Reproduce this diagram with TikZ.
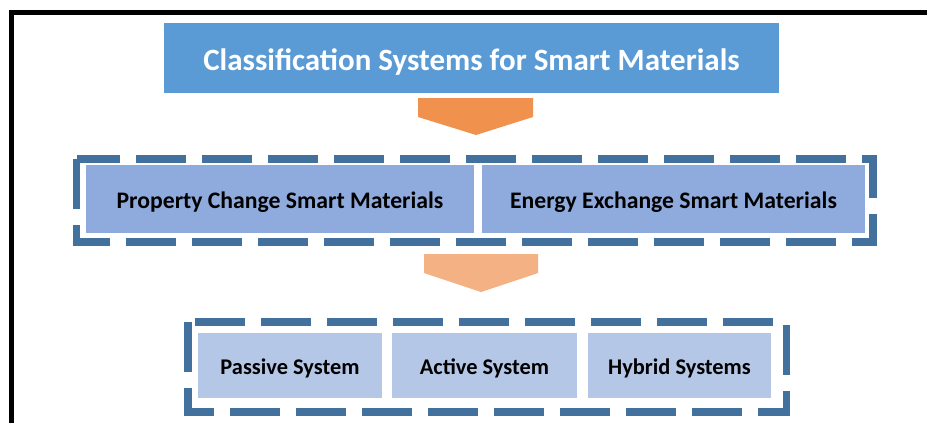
\documentclass[tikz,border=0pt]{standalone}
\usepackage{fontspec}
\setmainfont{Carlito}
\usepackage{tikz}
\usetikzlibrary{positioning}

\definecolor{titleblue}{RGB}{91,155,213}
\definecolor{midblue}{RGB}{143,170,220}
\definecolor{lightblue}{RGB}{180,199,231}
\definecolor{dashblue}{RGB}{65,113,156}
\definecolor{darkorange}{RGB}{240,146,78}
\definecolor{lightorange}{RGB}{244,177,131}

\begin{document}
\begin{tikzpicture}[x=1pt,y=-1pt,inner sep=0pt,text depth=0pt]
       \tikzstyle{titlebox}=[rectangle, fill=titleblue, text=white, text height=24pt, font=\fontsize{31}{36}\selectfont\bfseries]
       \tikzstyle{classbox}=[rectangle, fill=midblue, minimum height=68, text height=18pt, font=\fontsize{23.7}{28}\selectfont\bfseries]
       \tikzstyle{sysbox}=[rectangle, fill=lightblue, minimum height=65, minimum width=184, text height=17pt, font=\fontsize{22.4}{27}\selectfont\bfseries]
       \tikzstyle{groupline}=[draw=dashblue, line width=7.5, dash pattern=on 50 off 16]

       \useasboundingbox (0,0) rectangle (927,423);
       % outer frame, cut off on the right and at the bottom
       \draw[line width=5] (11.5,12.5) rectangle (940,440);

       \node[titlebox, minimum width=615, minimum height=70] (title) at (471.5,58) {Classification Systems for Smart Materials};

       % first level
       \node[classbox, minimum width=388] (prop) at (280,199) {Property Change Smart Materials};
       \node[classbox, minimum width=383] (energy) at (673.5,199) {Energy Exchange Smart Materials};
       \draw[groupline] (76.5,159) rectangle (873,242);

       % second level
       \node[sysbox] (passive) at (290,365.5) {Passive System};
       \node[sysbox, minimum width=185] (active) at (484.5,365.5) {Active System};
       \node[sysbox, minimum width=183] (hybrid) at (679.5,365.5) {Hybrid Systems};
       \draw[groupline] (188,322) rectangle (786.5,412);

       % block arrows
       \fill[darkorange] (418,98) -- (533,98) -- (533,117) -- (476,135) -- (418,117) -- cycle;
       \fill[lightorange] (424,254) -- (538,254) -- (538,273) -- (481,292) -- (424,273) -- cycle;
     \end{tikzpicture}
\end{document}
